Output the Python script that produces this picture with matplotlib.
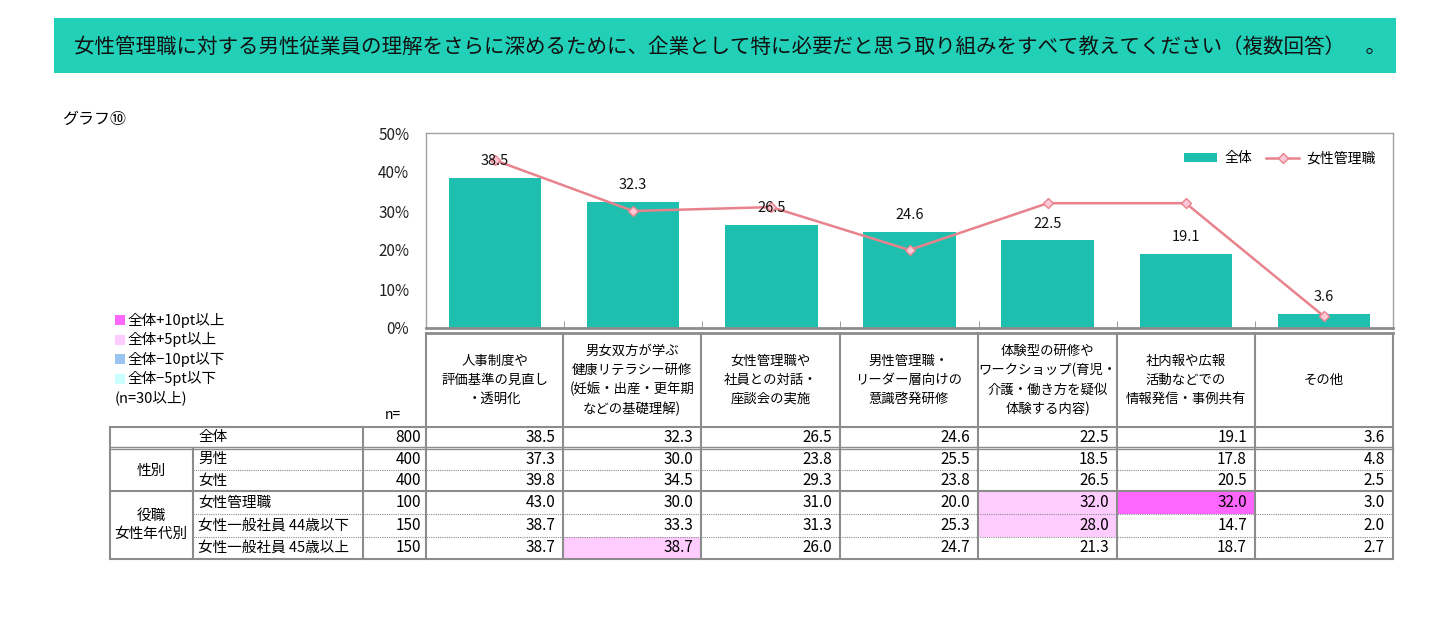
import matplotlib
matplotlib.use("Agg")
import matplotlib.pyplot as plt
from matplotlib.patches import Rectangle
from matplotlib.ticker import PercentFormatter, FixedLocator

plt.rcParams['font.family'] = ['Noto Sans CJK JP', 'DejaVu Sans']

# data
title = "女性管理職に対する男性従業員の理解をさらに深めるために、企業として特に必要だと思う取り組みをすべて教えてください（複数回答）　。"
categories = [
    "人事制度や\n評価基準の見直し\n・透明化",
    "男女双方が学ぶ\n健康リテラシー研修\n(妊娠・出産・更年期\nなどの基礎理解)",
    "女性管理職や\n社員との対話・\n座談会の実施",
    "男性管理職・\nリーダー層向けの\n意識啓発研修",
    "体験型の研修や\nワークショップ(育児・\n介護・働き方を疑似\n体験する内容)",
    "社内報や広報\n活動などでの\n情報発信・事例共有",
    "その他",
]
total = [38.5, 32.3, 26.5, 24.6, 22.5, 19.1, 3.6]
female_mgr = [43.0, 30.0, 31.0, 20.0, 32.0, 32.0, 3.0]

groups = ["性別", "役職\n女性年代別"]
row_labels = ["全体", "男性", "女性", "女性管理職", "女性一般社員 44歳以下", "女性一般社員 45歳以上"]
row_n = [800, 400, 400, 100, 150, 150]
row_values = [
    total,
    [37.3, 30.0, 23.8, 25.5, 18.5, 17.8, 4.8],
    [39.8, 34.5, 29.3, 23.8, 26.5, 20.5, 2.5],
    female_mgr,
    [38.7, 33.3, 31.3, 25.3, 28.0, 14.7, 2.0],
    [38.7, 38.7, 26.0, 24.7, 21.3, 18.7, 2.7],
]
key_labels = ["全体+10pt以上", "全体+5pt以上", "全体−10pt以下", "全体−5pt以下"]
key_colors = ["#FF66FF", "#FFCCFF", "#99C4F0", "#CCFFFF"]

teal = "#1FBFB0"
pink = "#E8828C"
grid = "#8C8C8C"

W, H = 1438, 629
fig = plt.figure(figsize=(W / 100, H / 100), dpi=100)

# overlay in pixel coordinates for banner / table
ov = fig.add_axes([0, 0, 1, 1])
ov.set_xlim(0, W)
ov.set_ylim(H, 0)
ov.axis('off')

ov.add_patch(Rectangle((54, 18), 1342, 55, color="#22D0B8", lw=0))
ov.text(74, 47, title, fontsize=14.8, va='center', ha='left', color='#111111')
ov.text(62, 119, "グラフ⑩", fontsize=11.5, va='center', ha='left')

# colour key
for i, (lab, col) in enumerate(zip(key_labels, key_colors)):
    y = 320 + i * 19.5
    ov.add_patch(Rectangle((115, y - 5), 10, 10, color=col, lw=0))
    ov.text(127, y, lab, fontsize=10.5, va='center', ha='left')
ov.text(115, 398, "(n=30以上)", fontsize=10.5, va='center', ha='left')
ov.text(393, 415, "n=", fontsize=10, va='center', ha='center')

# bar chart
x0, x1, ytop, ybot = 426, 1393, 133, 328
ax = fig.add_axes([x0 / W, 1 - ybot / H, (x1 - x0) / W, (ybot - ytop) / H])
xs = list(range(len(total)))
bars = ax.bar(xs, total, width=0.67, color=teal, label="全体", zorder=2)
line, = ax.plot(xs, female_mgr, color=pink, lw=1.8, marker='D', ms=5,
                mfc="#FFC8D8", mec=pink, mew=1, label="女性管理職", zorder=3)
ax.bar_label(bars, labels=[f"{v:.1f}" for v in total], padding=7,
             fontsize=10.5, color='#111111', zorder=4)
ax.set_xlim(-0.5, len(total) - 0.5)
ax.set_ylim(0, 50)
ax.yaxis.set_major_locator(FixedLocator([0, 10, 20, 30, 40, 50]))
ax.yaxis.set_major_formatter(PercentFormatter(decimals=0))
ax.tick_params(axis='y', length=0, pad=12, labelsize=11, labelcolor='#222222')
ax.set_xticks([])
ax.set_xticks([i + 0.5 for i in xs[:-1]], minor=True)
ax.tick_params(axis='x', which='minor', direction='in', length=5, color=grid)
for s in ['top', 'right', 'left']:
    ax.spines[s].set_color('#A0A0A0')
    ax.spines[s].set_linewidth(1)
ax.spines['bottom'].set_color(grid)
ax.spines['bottom'].set_linewidth(2)
ax.legend([bars, line], ["全体", "女性管理職"], loc='upper right',
          bbox_to_anchor=(0.995, 0.97), ncol=2, frameon=False,
          fontsize=10, handlelength=2.4, handleheight=0.55, columnspacing=1.0,
          handletextpad=0.5)

# table
cols = [426, 563, 701, 840, 978, 1117, 1255, 1393]
rows = [427, 448, 470, 491, 514, 537, 559]
head_top = 333

for i, lab in enumerate(categories):
    ov.text((cols[i] + cols[i + 1]) / 2, 380, lab, fontsize=9.6, ha='center',
            va='center', linespacing=1.45)

for r, (lab, n, vals) in enumerate(zip(row_labels, row_n, row_values)):
    yc = (rows[r] + rows[r + 1]) / 2
    ov.text(198, yc, lab, fontsize=10.5, ha='left', va='center')
    ov.text(421, yc, str(n), fontsize=11, ha='right', va='center')
    for c, v in enumerate(vals):
        diff = v - total[c]
        fill = None
        if r > 0 and n >= 30:
            if diff >= 10:
                fill = key_colors[0]
            elif diff >= 5:
                fill = key_colors[1]
            elif diff <= -10:
                fill = key_colors[2]
            elif diff <= -5:
                fill = key_colors[3]
        if fill:
            ov.add_patch(Rectangle((cols[c], rows[r]), cols[c + 1] - cols[c],
                                   rows[r + 1] - rows[r], color=fill, lw=0))
        ov.text(cols[c + 1] - 8, yc, f"{v:.1f}", fontsize=11, ha='right', va='center')

ov.text(151, (rows[1] + rows[3]) / 2 + 1, groups[0], fontsize=10.5, ha='center', va='center')
ov.text(151, (rows[3] + rows[6]) / 2, groups[1], fontsize=10.5, ha='center', va='center',
        linespacing=1.3)

lw = 1.5
# header frame
ov.plot([cols[0], cols[-1]], [head_top, head_top], color=grid, lw=2)
for xc in cols:
    ov.plot([xc, xc], [head_top, rows[-1]], color=grid, lw=lw)
# left part verticals
ov.plot([110, 110], [rows[0], rows[-1]], color=grid, lw=lw)
ov.plot([193, 193], [rows[1], rows[-1]], color=grid, lw=lw)
ov.plot([363, 363], [rows[0], rows[-1]], color=grid, lw=lw)
# horizontals
ov.plot([110, cols[-1]], [rows[0], rows[0]], color=grid, lw=lw)
ov.plot([110, cols[-1]], [rows[1] - 1.5, rows[1] - 1.5], color=grid, lw=1)
ov.plot([110, cols[-1]], [rows[1] + 1.0, rows[1] + 1.0], color=grid, lw=1)
ov.plot([110, cols[-1]], [rows[3], rows[3]], color=grid, lw=lw)
ov.plot([110, cols[-1]], [rows[-1], rows[-1]], color=grid, lw=lw)
for ry in [rows[2], rows[4], rows[5]]:
    ov.plot([193, cols[-1]], [ry, ry], color=grid, lw=0.8, ls=(0, (1, 1)))

fig.savefig("out.png", dpi=100)
